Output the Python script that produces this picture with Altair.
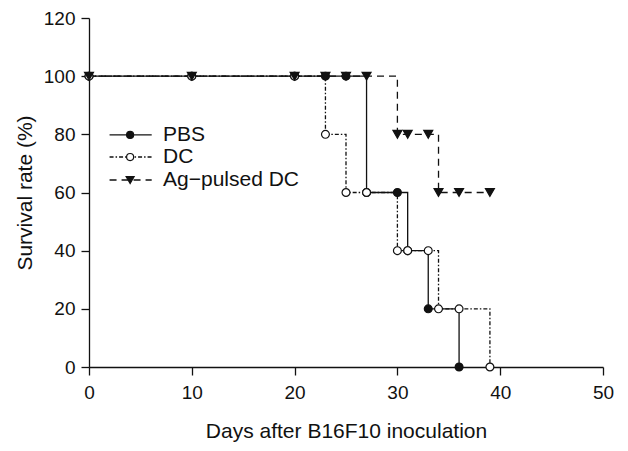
import altair as alt
import pandas as pd

# ---- data ----
series_names = ["PBS", "DC", "Ag\u2212pulsed DC"]
pbs_days = [0, 10, 20, 23, 25, 27, 30, 31, 33, 36]
pbs_surv = [100, 100, 100, 100, 100, 60, 60, 40, 20, 0]
dc_days = [0, 10, 20, 23, 25, 27, 30, 31, 33, 34, 36, 39]
dc_surv = [100, 100, 100, 80, 60, 60, 40, 40, 40, 20, 20, 0]
ag_days = [0, 10, 20, 23, 25, 27, 30, 31, 33, 34, 36, 39]
ag_surv = [100, 100, 100, 100, 100, 100, 80, 80, 80, 60, 60, 60]

x_ticks = [0, 10, 20, 30, 40, 50]
y_ticks = [0, 20, 40, 60, 80, 100, 120]

# ---- styles (not data) ----
INK = "#111111"
FONT = "Liberation Sans"
styles = {
    "PBS": dict(dash=[1, 0], shape="circle", fill=INK, size=62),
    "DC": dict(dash=[4, 2, 1.5, 2], shape="circle", fill="white", size=62),
    "Ag\u2212pulsed DC": dict(dash=[7, 5], shape="triangle-down", fill=INK, size=80),
}
# legend placement in data units
leg_x1, leg_xm, leg_x2, leg_xt = 2.0, 4.0, 6.1, 7.2
leg_y = {"PBS": 79.8, "DC": 72.2, "Ag\u2212pulsed DC": 64.3}

frames = {
    "PBS": pd.DataFrame({"day": pbs_days, "surv": pbs_surv}),
    "DC": pd.DataFrame({"day": dc_days, "surv": dc_surv}),
    "Ag\u2212pulsed DC": pd.DataFrame({"day": ag_days, "surv": ag_surv}),
}

xs = alt.Scale(domain=[0, 50], nice=False)
ys = alt.Scale(domain=[0, 120], nice=False)
x_enc = alt.X("day:Q", scale=xs, title="Days after B16F10 inoculation",
              axis=alt.Axis(values=x_ticks, format="d"))
y_enc = alt.Y("surv:Q", scale=ys, title="Survival rate (%)",
              axis=alt.Axis(values=y_ticks, format="d"))

line_layers = []
point_layers = []
legend_layers = []
for name in series_names:
    st = styles[name]
    df = frames[name]
    line_layers.append(
        alt.Chart(df).mark_line(interpolate="step-after", color=INK, strokeWidth=1.3,
                                strokeDash=st["dash"]).encode(x=x_enc, y=y_enc)
    )
    point_layers.append(
        alt.Chart(df).mark_point(shape=st["shape"], filled=True, fill=st["fill"], stroke=INK,
                                 strokeWidth=1.2, size=st["size"], opacity=1)
        .encode(x=x_enc, y=y_enc)
    )
    ldf = pd.DataFrame({"x1": [leg_x1], "x2": [leg_x2], "xm": [leg_xm], "xt": [leg_xt],
                        "y": [leg_y[name]], "label": [name]})
    legend_layers.append(
        alt.Chart(ldf).mark_rule(color=INK, strokeWidth=1.3, strokeDash=st["dash"])
        .encode(x=alt.X("x1:Q", scale=xs), x2="x2:Q", y=alt.Y("y:Q", scale=ys))
    )
    legend_layers.append(
        alt.Chart(ldf).mark_point(shape=st["shape"], filled=True, fill=st["fill"], stroke=INK,
                                  strokeWidth=1.2, size=st["size"] * 0.8, opacity=1)
        .encode(x=alt.X("xm:Q", scale=xs), y=alt.Y("y:Q", scale=ys))
    )
    legend_layers.append(
        alt.Chart(ldf).mark_text(align="left", baseline="middle", font=FONT, fontSize=21,
                                 color=INK)
        .encode(x=alt.X("xt:Q", scale=xs), y=alt.Y("y:Q", scale=ys), text="label:N")
    )

chart = (
    alt.layer(*line_layers, *point_layers, *legend_layers)
    .properties(width=514, height=349, autosize="none",
                padding={"left": 81, "top": 10, "right": 17, "bottom": 76})
    .configure_view(strokeWidth=0)
    .configure_axis(
        grid=False, domainColor=INK, tickColor=INK, domainWidth=1.3, tickWidth=1.3,
        tickSize=8, labelFont=FONT, labelFontSize=19, labelColor=INK, labelPadding=6,
        labelFlush=False, labelOverlap=False,
        titleFont=FONT, titleFontSize=21, titleColor=INK, titleFontWeight="normal",
    )
    .configure_axisX(titlePadding=18, labelPadding=8)
    .configure_axisY(titlePadding=8)
)

chart.save("out.html", embed_options={"renderer": "svg", "actions": False})
